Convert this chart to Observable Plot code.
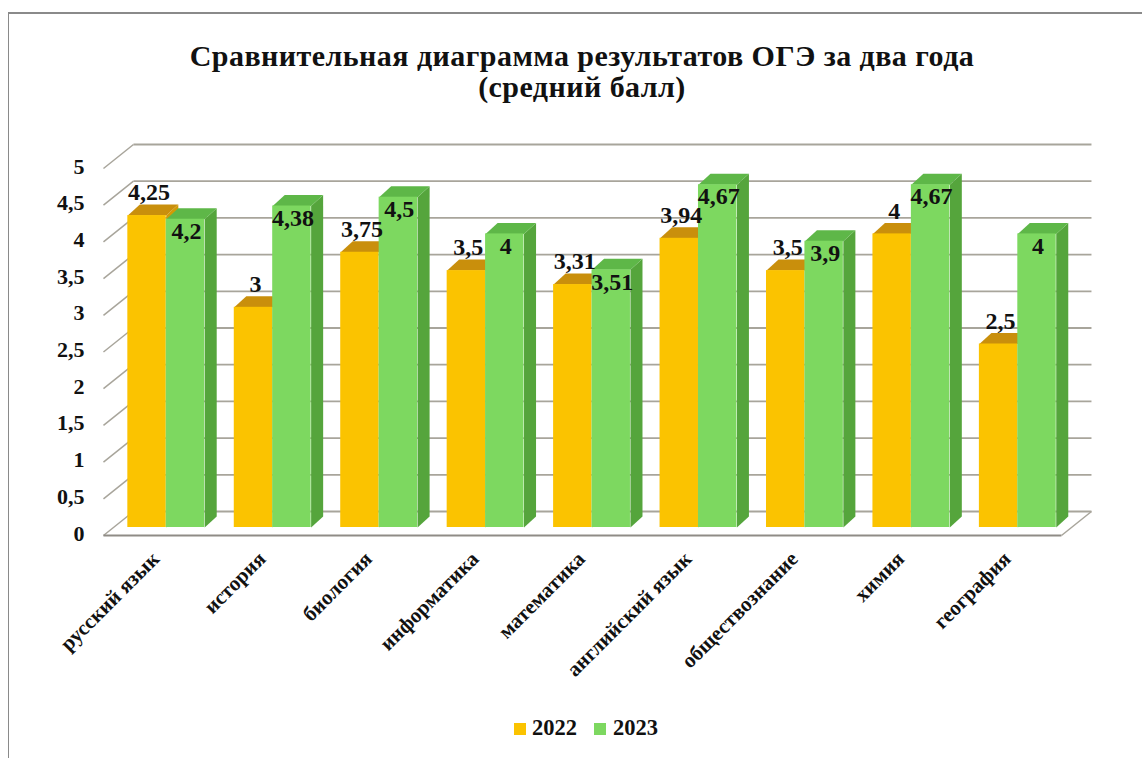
<!DOCTYPE html>
<html lang="ru">
<head>
<meta charset="utf-8">
<script src="https://cdn.jsdelivr.net/npm/d3@7"></script>
<script src="https://cdn.jsdelivr.net/npm/@observablehq/plot@0.6"></script>
<style>
  html, body { margin: 0; padding: 0; background: #fff; width: 1142px; height: 758px; overflow: hidden; }
  body { position: relative; font-family: "Liberation Serif", serif; color: #111; }
  #frame { position: absolute; left: 8px; top: 12px; right: -5px; bottom: -5px; border-left: 1px solid #8a8a8a; border-top: 2px solid #8a8a8a; box-sizing: border-box; pointer-events: none; }
  #title { position: relative; height: 130px; box-sizing: border-box; padding-top: 40px; text-align: center; font: bold 30px/31px "Liberation Serif", serif; letter-spacing: .45px; padding-left: 22px; }
  #chart { position: relative; height: 570px; }
  #chart svg { display: block; }
  #legend { position: relative; height: 58px; font: bold 22.5px/24px "Liberation Serif", serif; }
  #legend span { position: absolute; top: 16px; }
  #legend i { position: absolute; top: 23px; width: 12px; height: 12px; }
</style>
</head>
<body>
<div id="frame"></div>
<div id="title">Сравнительная диаграмма результатов ОГЭ за два года<br>(средний балл)</div>
<div id="chart"></div>
<div id="legend">
  <i style="left:514px;background:#fbc300"></i><span style="left:532px">2022</span>
  <i style="left:594px;background:#7dd860"></i><span style="left:613px">2023</span>
</div>
<script>
const categories = ["русский язык","история","биология","информатика","математика","английский язык","обществознание","химия","география"];
const values2022 = [4.25,3,3.75,3.5,3.31,3.94,3.5,4,2.5];
const values2023 = [4.2,4.38,4.5,4,3.51,4.67,3.9,4.67,4];
const yTicks = [0,0.5,1,1.5,2,2.5,3,3.5,4,4.5,5];

// Pseudo-3D depth, expressed in scale units (x: category step, y: score)
const barInset = 0.144, barW = 0.361;
const barDX = 0.113, barDY = 0.15;
const frontDX = -0.085, frontDY = -0.109;
const backDX = 0.197, backDY = 0.218;

const comma = v => String(v).replace(".", ",");
const bars = (vals, offset) => vals.map((v, i) => ({
  v, i, x1: i + barInset + offset * barW, x2: i + barInset + (offset + 1) * barW
}));
const bars2022 = bars(values2022, 0);
const bars2023 = bars(values2023, 1);

function faces(list, sideCol, topCol) {
  const pts = [];
  list.forEach((b, n) => {
    [[[b.x2,0],[b.x2+barDX,barDY],[b.x2+barDX,b.v+barDY],[b.x2,b.v]],
     [[b.x1,b.v],[b.x2,b.v],[b.x2+barDX,b.v+barDY],[b.x1+barDX,b.v+barDY]]]
    .forEach((poly, k) => poly.forEach(([x,y]) => pts.push({x, y, id:`${n}-${k}`, c: k ? topCol : sideCol})));
  });
  return pts;
}

const wall = yTicks.map(t => ({x1: backDX, x2: 9 + backDX, y: t + backDY}));
const diag = yTicks.map(t => ({x1: frontDX, x2: backDX, y1: t + frontDY, y2: t + backDY}));
const grid = "#a8a59b";

const plot = Plot.plot({
  width: 1142, height: 570,
  marginLeft: 112, marginRight: 72, marginTop: 30, marginBottom: 173,
  style: {background: "transparent", overflow: "visible"},
  x: {type: "linear", domain: [0, 9]},
  y: {domain: [0, 5]},
  color: {type: "identity"},
  marks: [
    Plot.link(wall, {x1:"x1", x2:"x2", y1:"y", y2:"y", stroke:grid, strokeWidth:1.8}),
    Plot.link(diag, {x1:"x1", x2:"x2", y1:"y1", y2:"y2", stroke:grid, strokeWidth:1.5}),
    Plot.link([{x1: frontDX, x2: 9 + frontDX, y: frontDY}], {x1:"x1", x2:"x2", y1:"y", y2:"y", stroke:"#8f8c86", strokeWidth:2}),
    Plot.link([{x1: 9 + frontDX, x2: 9 + backDX, y1: frontDY, y2: backDY}], {x1:"x1", x2:"x2", y1:"y1", y2:"y2", stroke:grid, strokeWidth:1.5}),
    Plot.line(faces(bars2022, "#d39a05", "#c98f0c"), {x:"x", y:"y", z:"id", fill:"c", stroke:"none"}),
    Plot.rectY(bars2022, {x1:"x1", x2:"x2", y1:0, y2:"v", fill:"#fbc300"}),
    Plot.line(faces(bars2023, "#55a53c", "#5eb748"), {x:"x", y:"y", z:"id", fill:"c", stroke:"none"}),
    Plot.rectY(bars2023, {x1:"x1", x2:"x2", y1:0, y2:"v", fill:"#7dd860"}),
    Plot.text(bars2022, {x: d => d.x1 + barW/2, y:"v", text: d => comma(d.v), dx:2, dy:-23, fontSize:24, fontWeight:"bold", fontFamily:"Liberation Serif", fill:"#111"}),
    Plot.text(bars2023, {x: d => d.x1 + barW/2, y:"v", text: d => comma(d.v), dx:1, dy:12, fontSize:24, fontWeight:"bold", fontFamily:"Liberation Serif", fill:"#111"}),
    Plot.axisY({ticks: yTicks, tickFormat: comma, tickSize:0, tickPadding:28, dy:6, label:null, fontSize:22, fontWeight:"bold", fontFamily:"Liberation Serif", fill:"#111"}),
    Plot.axisX({ticks: categories.map((c, i) => i + 0.5), tickFormat: v => categories[Math.floor(v)], tickSize:0, tickPadding:28, dx:-10, tickRotate:-45, label:null, fontSize:21, fontWeight:"bold", fontFamily:"Liberation Serif", fill:"#111"})
  ]
});
document.getElementById("chart").append(plot);
</script>
</body>
</html>
